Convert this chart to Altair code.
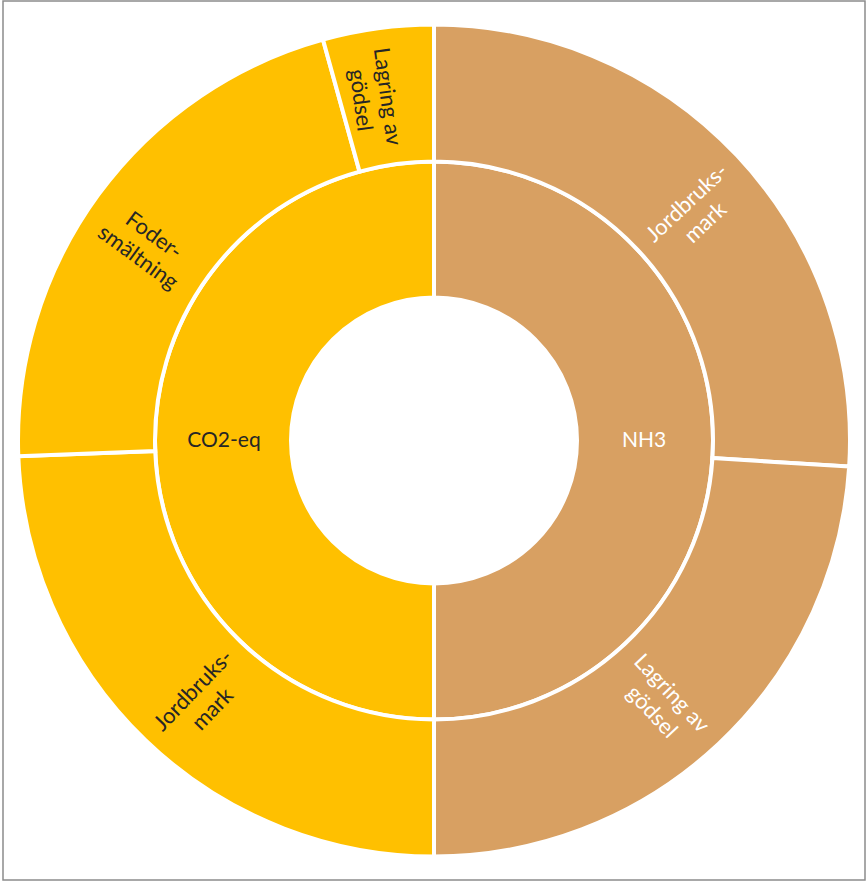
import altair as alt
import pandas as pd

# ---- data ----
inner_labels = ["NH3", "CO2-eq"]
inner_values = [50.0, 50.0]

outer_parent = ["NH3", "NH3", "CO2-eq", "CO2-eq", "CO2-eq"]
outer_labels = ["Jordbruks-\nmark", "Lagring av\ngödsel", "Jordbruks-\nmark", "Foder-\nsmältning", "Lagring av\ngödsel"]
outer_values = [26.0, 24.0, 24.4, 21.3, 4.3]

colors = {"NH3": "#D8A062", "CO2-eq": "#FFC000"}
text_colors = {"NH3": "#FFFFFF", "CO2-eq": "#262626"}


def build(labels, values, parents):
    total = sum(values)
    rows = []
    acc = 0.0
    for lab, v, p in zip(labels, values, parents):
        start = acc / total * 360.0
        acc += v
        end = acc / total * 360.0
        mid = (start + end) / 2.0
        if mid <= 180:
            ang = (mid - 90) % 360
        else:
            ang = (mid - 270) % 360
        rows.append(dict(label=lab, parent=p, start=start, end=end, mid=mid,
                         ang=ang, fill=colors[p], tcol=text_colors[p]))
    return pd.DataFrame(rows)


inner_df = build(inner_labels, inner_values, inner_labels)
inner_df["ang"] = 0.0
outer_df = build(outer_labels, outer_values, outer_parent)

W, H = 862, 879
tscale = alt.Scale(domain=[0, 360])

frame = alt.Chart(pd.DataFrame({"k": [0]})).mark_rect(
    fillOpacity=0, stroke="#8c8c8c", strokeWidth=1.5
).encode(x=alt.value(0), x2=alt.value(W), y=alt.value(0), y2=alt.value(H))

inner_arc = alt.Chart(inner_df).mark_arc(radius=279, radius2=143, stroke="white", strokeWidth=4).encode(
    theta=alt.Theta("start:Q", scale=tscale),
    theta2="end:Q",
    fill=alt.Fill("fill:N", scale=None),
)
outer_arc = alt.Chart(outer_df).mark_arc(radius=416, radius2=279, stroke="white", strokeWidth=4).encode(
    theta=alt.Theta("start:Q", scale=tscale),
    theta2="end:Q",
    fill=alt.Fill("fill:N", scale=None),
)
inner_text = alt.Chart(inner_df).mark_text(radius=210, font="Lato", fontSize=21,
                                           align="center", baseline="middle").encode(
    theta=alt.Theta("mid:Q", scale=tscale),
    text="label:N",
    color=alt.Color("tcol:N", scale=None),
)
outer_text = alt.Chart(outer_df).mark_text(radius=347, font="Lato", fontSize=22, lineBreak="\n",
                                           lineHeight=27, align="center", baseline="middle").encode(
    theta=alt.Theta("mid:Q", scale=tscale),
    angle=alt.Angle("ang:Q", scale=None),
    text="label:N",
    color=alt.Color("tcol:N", scale=None),
)

chart = alt.layer(frame, inner_arc, outer_arc, inner_text, outer_text).properties(
    width=W, height=H,
    autosize=alt.AutoSizeParams(type="none"),
    padding={"left": 3, "top": 1, "right": 1, "bottom": 1},
    background="white",
).configure_view(stroke=None)

chart.save("out.html", embed_options={"renderer": "svg", "actions": False})
